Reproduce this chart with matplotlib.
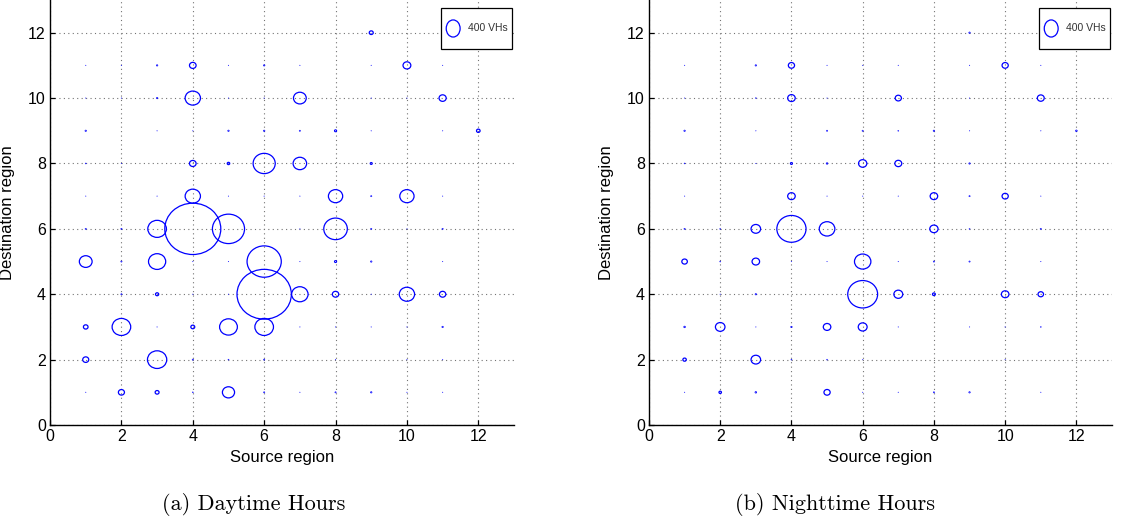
import numpy as np
import matplotlib
matplotlib.use('Agg')
import matplotlib.pyplot as plt
from matplotlib.patches import Circle, Ellipse
from matplotlib.offsetbox import AnchoredOffsetbox, HPacker, DrawingArea, TextArea

# Trips between regions (VHs); rows = destination 12..1, columns = source 1..12
dest_regions = [12, 11, 10, 9, 8, 7, 6, 5, 4, 3, 2, 1]
src_regions = [1, 2, 3, 4, 5, 6, 7, 8, 9, 10, 11, 12]

day_flows = [
    [0, 0, 0, 0, 0, 0, 0, 0, 31, 0, 0, 0],
    [1, 1, 4, 86, 1, 4, 1, 0, 1, 120, 1, 0],
    [1, 1, 4, 460, 1, 1, 320, 0, 1, 1, 100, 0],
    [4, 0, 1, 1, 4, 4, 3, 9, 1, 0, 1, 25],
    [2, 1, 0, 86, 12, 960, 360, 0, 9, 0, 0, 0],
    [1, 0, 1, 460, 1, 1, 1, 400, 3, 400, 1, 0],
    [3, 3, 680, 6160, 2025, 0, 1, 1090, 3, 1, 3, 0],
    [320, 3, 580, 1, 1, 2300, 1, 9, 4, 0, 1, 0],
    [0, 3, 20, 1, 1, 5800, 530, 80, 1, 460, 80, 0],
    [42, 680, 1, 30, 620, 680, 1, 1, 1, 1, 4, 0],
    [72, 0, 730, 3, 2, 3, 0, 1, 0, 1, 1, 0],
    [1, 72, 30, 2, 290, 3, 1, 3, 4, 1, 1, 0],
]

night_flows = [
    [0, 0, 0, 0, 0, 0, 0, 0, 4, 0, 0, 0],
    [1, 0, 4, 76, 1, 1, 1, 0, 1, 76, 1, 0],
    [1, 0, 2, 112, 1, 0, 76, 0, 1, 0, 94, 0],
    [4, 0, 1, 0, 3, 3, 2, 4, 1, 0, 1, 5],
    [2, 0, 1, 9, 5, 135, 94, 0, 4, 0, 0, 0],
    [1, 0, 0, 112, 1, 1, 1, 112, 3, 76, 1, 0],
    [3, 2, 180, 1680, 480, 0, 0, 135, 2, 0, 3, 0],
    [60, 2, 112, 1, 1, 530, 1, 3, 3, 0, 1, 0],
    [0, 1, 4, 0, 0, 1760, 156, 16, 0, 112, 60, 0],
    [5, 180, 1, 4, 112, 156, 1, 0, 1, 1, 2, 0],
    [23, 0, 180, 2, 2, 1, 0, 0, 0, 1, 0, 0],
    [1, 12, 5, 0, 76, 1, 1, 3, 4, 0, 1, 0],
]

ticks = [0, 2, 4, 6, 8, 10, 12]
legend_value = 400
captions = ['(a) Daytime Hours', '(b) Nighttime Hours']

plt.rcParams['font.family'] = ['Liberation Sans', 'DejaVu Sans']

fig = plt.figure(figsize=(11.22, 5.27), dpi=100)
ax_day = fig.add_axes([0.0446, 0.1935, 0.4135, 0.8065])
ax_night = fig.add_axes([0.5784, 0.1935, 0.4127, 0.8065])


def add_size_legend(ax):
    # key box: one open ellipse + label, framed like the MATLAB legend
    da = DrawingArea(12, 23.5, 0, 0)
    da.add_artist(Ellipse((6, 11.5), 10, 12.3, fill=False,
                          edgecolor='#0000ff', linewidth=0.9))
    ta = TextArea('%d VHs' % legend_value,
                  textprops=dict(size=7.5, color='0.2'))
    pack = HPacker(children=[da, ta], align='center', pad=0, sep=4.5)
    box = AnchoredOffsetbox(loc='upper right', child=pack, pad=0.3,
                            borderpad=0, frameon=True,
                            bbox_to_anchor=(0.995, 0.982),
                            bbox_transform=ax.transAxes)
    box.patch.set_boxstyle('square', pad=0)
    box.patch.set_edgecolor('black')
    box.patch.set_linewidth(0.9)
    box.zorder = 5
    ax.add_artist(box)


def draw_panel(ax, flows):
    flows = np.array(flows, dtype=float)
    for i, d in enumerate(dest_regions):
        for j, s in enumerate(src_regions):
            v = flows[i, j]
            if v <= 0:
                continue
            r = 0.2 * np.sqrt(v / legend_value)
            lw = 0.9 * min(1.0, r / 0.035)
            ax.add_patch(Circle((s, d), r, fill=False, edgecolor='#0000ff',
                                linewidth=max(lw, 0.25), zorder=3))
    ax.set_xlim(0, 13)
    ax.set_ylim(0, 13)
    ax.set_xticks(ticks)
    ax.set_yticks(ticks)
    ax.grid(True, color='0.45', linestyle=(0, (1, 3)), linewidth=0.8)
    ax.set_axisbelow(True)
    for side in ['top', 'right']:
        ax.spines[side].set_visible(False)
    for side in ['left', 'bottom']:
        ax.spines[side].set_linewidth(1.0)
    ax.tick_params(direction='in', length=3.5, width=0.9, labelsize=11.5, pad=3)
    ax.set_xlabel('Source region', fontsize=12)
    ax.set_ylabel('Destination region', fontsize=12)
    ax.xaxis.set_label_coords(0.5, -0.059)
    ax.yaxis.set_label_coords(-0.075, 0.5)
    add_size_legend(ax)


draw_panel(ax_day, day_flows)
draw_panel(ax_night, night_flows)

fig.text(254 / 1122, 0.042, captions[0], ha='center', va='center',
         fontsize=16, family='cmr10')
fig.text(835 / 1122, 0.042, captions[1], ha='center', va='center',
         fontsize=16, family='cmr10')

fig.savefig('out.png', dpi=100)
